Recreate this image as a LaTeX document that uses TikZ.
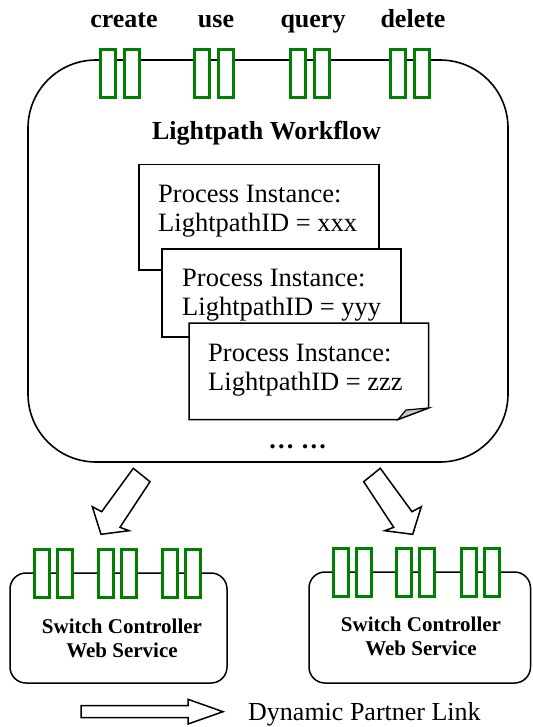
\documentclass[tikz,border=0pt]{standalone}
\usepackage{fontspec}
\setmainfont{Liberation Serif}
\definecolor{portgreen}{RGB}{0,128,0}
\definecolor{foldgray}{RGB}{200,200,200}
\begin{document}
\begin{tikzpicture}[x=1pt,y=-1pt,
  port/.style={draw=portgreen,line width=3pt,fill=white,minimum width=15pt,minimum height=48pt,inner sep=0pt},
  oplabel/.style={font=\fontsize{26}{30}\selectfont\bfseries,inner sep=0pt,anchor=base},
  procbox/.style={draw,line width=1.5pt,fill=white,inner sep=0pt,anchor=north west},
  proctext/.style={font=\fontsize{26.5}{29}\selectfont,align=left,inner sep=0pt,anchor=north west},
  svcbox/.style={draw,line width=1.5pt,rounded corners=16pt},
  svctext/.style={font=\fontsize{21}{24}\selectfont\bfseries,align=center,inner sep=0pt,anchor=north},
  blockarrow/.style={draw,line width=1.5pt,fill=white,line join=miter}
]
\useasboundingbox (0,0) rectangle (532,727);

% main workflow box
\draw[line width=1.6pt,rounded corners=68pt] (28,60) rectangle (508,462);
\coordinate (wf) at (268,260);

% operation ports
\foreach \n/\a/\b in {c/108/132, u/202/226, q/298/322, d/398/422}{
  \node[port] (\n1) at (\a,73.5) {};
  \node[port] (\n2) at (\b,73.5) {};
}
\node[oplabel] (lc) at (124,28) {create};
\node[oplabel] (lu) at (216,28) {use};
\node[oplabel] (lq) at (313,28) {query};
\node[oplabel] (ld) at (413,28) {delete};

\node[oplabel] (title) at (266.5,140) {Lightpath Workflow};

% process instances
\node[procbox,minimum width=240pt,minimum height=105pt] (p1) at (138,164) {};
\node[proctext] (t1) at (158,184.5) {Process Instance:\\LightpathID = xxx};
\node[procbox,minimum width=239pt,minimum height=88pt] (p2) at (161,248) {};
\node[proctext] (t2) at (182,268.5) {Process Instance:\\LightpathID = yyy};
\draw[line width=1.5pt,fill=white,line join=miter] (189,323) -- (428.5,323) -- (428.5,408) -- (398,419.5) -- (189,419.5) -- cycle;
\draw[line width=1.2pt,fill=foldgray] (398,419.5) -- (406,410) -- (428.5,408) -- cycle;
\coordinate (p3) at (308,371);
\node[proctext] (t3) at (208,343.5) {Process Instance:\\LightpathID = zzz};

\node[oplabel] (dots) at (297.5,448) {… …};

% service boxes
\draw[svcbox] (10,573) rectangle (227,683);
\foreach \n/\x in {a1/41.5, a2/64.5, a3/105.5, a4/128.5, a5/169.5, a6/192.5}{
  \node[port] (\n) at (\x,573.5) {};
}
\node[svctext] (s1) at (122,618.8) {Switch Controller\\Web Service};

\draw[svcbox] (309,572) rectangle (530.5,683);
\foreach \n/\x in {b1/340.5, b2/363.5, b3/403.5, b4/427, b5/468.5, b6/491.5}{
  \node[port] (\n) at (\x,572) {};
}
\node[svctext] (s2) at (421,617) {Switch Controller\\Web Service};

% dynamic partner link arrows
\draw[blockarrow] (133.3,468.3) -- (150,481.7) -- (120,527.3) -- (129,530.7) -- (101,534.3) -- (92.3,506.7) -- (101.7,511.7) -- cycle;
\draw[blockarrow] (380.3,468.3) -- (363.7,481.7) -- (393.7,527.3) -- (384.7,530.7) -- (412.7,534.3) -- (421.3,506.7) -- (412,511.7) -- cycle;

% legend
\draw[blockarrow] (81,705.7) -- (188,705.7) -- (188,699.3) -- (223,711.7) -- (188,724) -- (188,717.7) -- (81,717.7) -- cycle;
\node[font=\fontsize{26}{30}\selectfont,inner sep=0pt,anchor=base west] (leg) at (248,720) {Dynamic Partner Link};
\end{tikzpicture}
\end{document}
